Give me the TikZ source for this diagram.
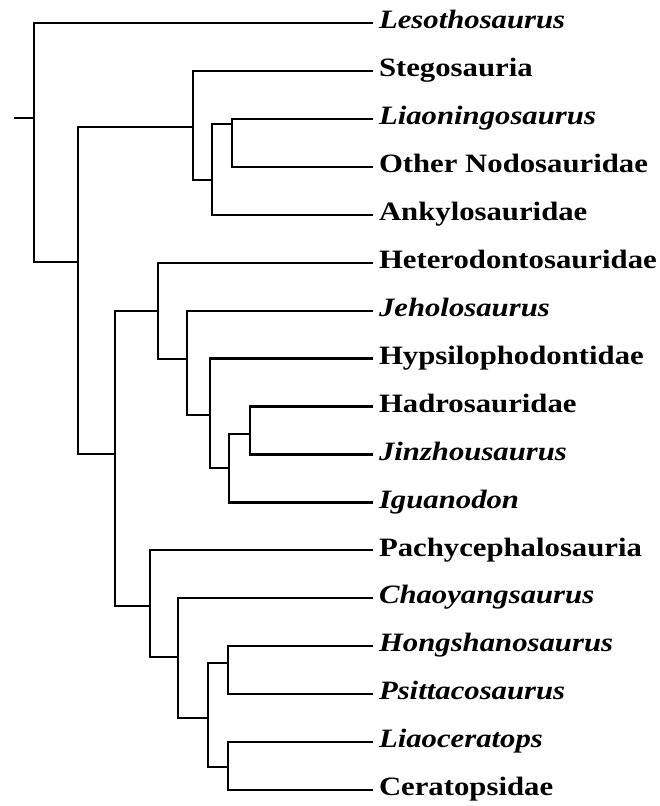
\documentclass[tikz,border=0pt]{standalone}
\usepackage{fontspec}
\setmainfont{Liberation Serif}[FakeStretch=1.16]
\begin{document}
\begin{tikzpicture}[x=1pt,y=-1pt,
    branch/.style={line width=2.2pt},
    taxon/.style={anchor=west, inner sep=0pt, outer xsep=6pt,
      text height=17pt, text depth=5.6pt,
      font=\fontsize{26.5}{30}\selectfont\bfseries}]
    \useasboundingbox (0,0) rectangle (659,806);

    % Taxa
    \foreach \n/\t [count=\i from 0] in {
        leso/\textit{Lesothosaurus}, stego/Stegosauria,
        liaon/\textit{Liaoningosaurus}, nodo/Other Nodosauridae,
        ankylo/Ankylosauridae, hetero/Heterodontosauridae,
        jeholo/\textit{Jeholosaurus}, hypsi/Hypsilophodontidae,
        hadro/Hadrosauridae, jinzhou/\textit{Jinzhousaurus},
        iguano/\textit{Iguanodon}, pachy/Pachycephalosauria,
        chaoy/\textit{Chaoyangsaurus}, hongsh/\textit{Hongshanosaurus},
        psitt/\textit{Psittacosaurus}, liaoc/\textit{Liaoceratops},
        cerat/Ceratopsidae}
      \node[taxon] (\n) at (373,23+47.94*\i) {\t};

    % Internal nodes
    \coordinate (stem) at (14,118);
    \coordinate (root) at (34,118);
    \coordinate (gena) at (78,262);
    \coordinate (thyreo) at (193,127);
    \coordinate (ankyloid) at (212,180);
    \coordinate (nodoid) at (232,124);
    \coordinate (cerapoda) at (115,454);
    \coordinate (ornitho) at (158,311);
    \coordinate (jehnode) at (187,359);
    \coordinate (hypnode) at (210,415);
    \coordinate (iguanoid) at (229,468);
    \coordinate (hadroid) at (250,434);
    \coordinate (margino) at (150,606);
    \coordinate (ceratopsia) at (178,657);
    \coordinate (chaonode) at (208,718);
    \coordinate (psittoid) at (228,663);
    \coordinate (neocerat) at (228,767);

    % Branches
    \draw[branch] (stem) -- (root);
    \draw[branch] (root) |- (leso.west);
    \draw[branch] (root) |- (gena);
    \draw[branch] (gena) |- (thyreo);
    \draw[branch] (gena) |- (cerapoda);
    \draw[branch] (thyreo) |- (stego.west);
    \draw[branch] (thyreo) |- (ankyloid);
    \draw[branch] (ankyloid) |- (nodoid);
    \draw[branch] (ankyloid) |- (ankylo.west);
    \draw[branch] (nodoid) |- (liaon.west);
    \draw[branch] (nodoid) |- (nodo.west);
    \draw[branch] (cerapoda) |- (ornitho);
    \draw[branch] (cerapoda) |- (margino);
    \draw[branch] (ornitho) |- (hetero.west);
    \draw[branch] (ornitho) |- (jehnode);
    \draw[branch] (jehnode) |- (jeholo.west);
    \draw[branch] (jehnode) |- (hypnode);
    \draw[branch] (hypnode) |- (hypsi.west);
    \draw[branch] (hypnode) |- (iguanoid);
    \draw[branch] (iguanoid) |- (hadroid);
    \draw[branch] (iguanoid) |- (iguano.west);
    \draw[branch] (hadroid) |- (hadro.west);
    \draw[branch] (hadroid) |- (jinzhou.west);
    \draw[branch] (margino) |- (pachy.west);
    \draw[branch] (margino) |- (ceratopsia);
    \draw[branch] (ceratopsia) |- (chaoy.west);
    \draw[branch] (ceratopsia) |- (chaonode);
    \draw[branch] (chaonode) |- (psittoid);
    \draw[branch] (chaonode) |- (neocerat);
    \draw[branch] (psittoid) |- (hongsh.west);
    \draw[branch] (psittoid) |- (psitt.west);
    \draw[branch] (neocerat) |- (liaoc.west);
    \draw[branch] (neocerat) |- (cerat.west);
\end{tikzpicture}
\end{document}
